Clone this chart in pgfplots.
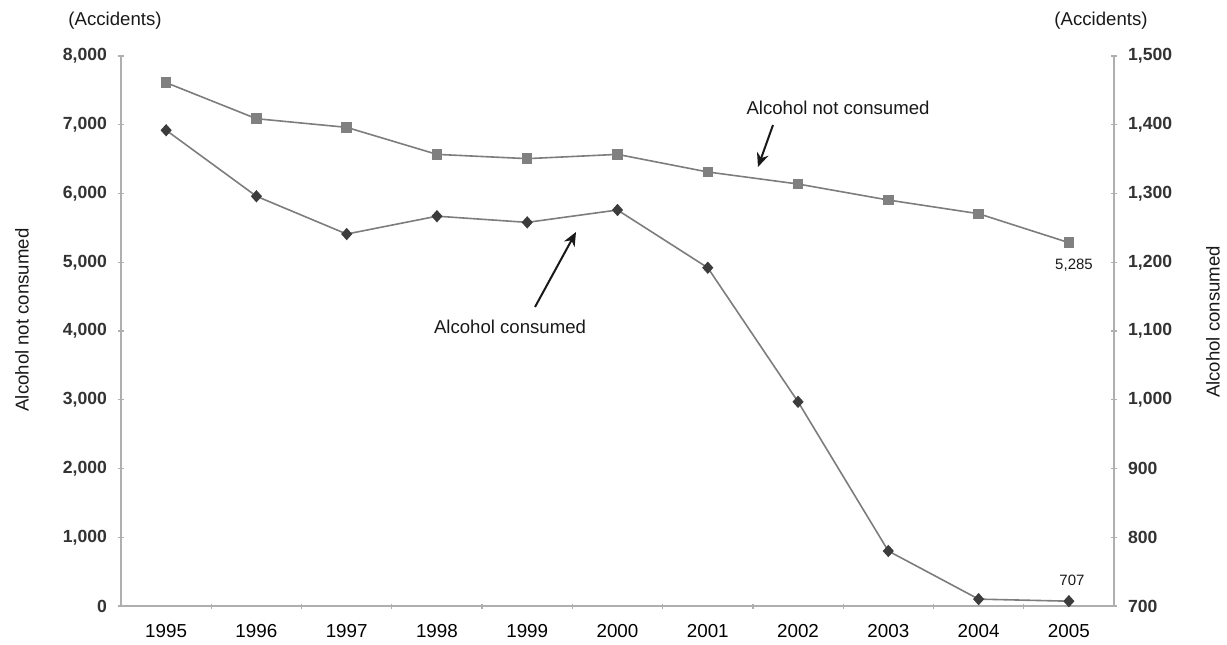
\documentclass[border=0pt]{standalone}
\usepackage{fontspec}
\setmainfont{Liberation Sans}
\usepackage{pgfplots}
\pgfplotsset{compat=1.18}
\usetikzlibrary{arrows.meta}

\definecolor{axisgray}{RGB}{175,175,175}
\definecolor{linegray}{RGB}{125,125,125}
\definecolor{sqgray}{RGB}{128,128,128}
\definecolor{dmdark}{RGB}{60,60,60}

\pgfplotsset{
  base/.style={
    at={(60.5pt,18pt)}, anchor=south west,
    scale only axis, width=496.5pt, height=275pt,
    xmin=-0.5, xmax=10.5,
    axis line style={axisgray, line width=0.7pt, -},
    tick style={axisgray, line width=0.6pt},
    tick align=center,
    major tick length=3pt,
    /pgf/number format/assume math mode=true,
    /pgf/number format/1000 sep={,},
    scaled y ticks=false,
    yticklabel style={font=\bfseries\fontsize{8.8}{10}\selectfont, text=black!80},
    clip=false,
  }
}

\begin{document}
\begin{tikzpicture}
% fixed page size, in reference pixels
\begin{scope}[x=0.5pt,y=-0.5pt,shift={(0pt,321pt)}]
  \path[use as bounding box] (0,0) rectangle (1227,642);
\end{scope}

% left axis: alcohol not consumed
\begin{axis}[base,
  ymin=0, ymax=8000,
  axis lines*=left,
  xtick={0,...,10},
  xticklabels={1995,1996,1997,1998,1999,2000,2001,2002,2003,2004,2005},
  major x tick style={draw=none},
  minor xtick={0.5,1.5,...,9.5},
  minor tick length=2.5pt,
  minor tick style={axisgray, line width=0.6pt},
  xticklabel style={font=\fontsize{9.4}{10}\selectfont, yshift=-4pt},
  ytick={0,1000,...,8000},
  yticklabel style={xshift=-2pt},
]
\addplot[color=linegray, line width=0.8pt, mark=square*, mark size=2.2pt,
  mark options={fill=sqgray, draw=sqgray}]
  coordinates {
    (0,7612)(1,7088)(2,6962)(3,6569)(4,6507)(5,6569)
    (6,6313)(7,6138)(8,5905)(9,5706)(10,5285)
  };
\end{axis}

% right axis: alcohol consumed
\begin{axis}[base,
  ymin=700, ymax=1500,
  axis x line=none,
  axis y line*=right,
  ytick={700,800,...,1500},
  yticklabel style={xshift=2pt},
]
\addplot[color=linegray, line width=0.8pt, mark=diamond*, mark size=2.5pt,
  mark options={fill=dmdark, draw=dmdark, xscale=1.2}]
  coordinates {
    (0,1392)(1,1296)(2,1241)(3,1267)(4,1258)(5,1276)
    (6,1192)(7,997)(8,780)(9,710)(10,707)
  };
\end{axis}

% texts and arrows, in reference pixels
\begin{scope}[x=0.5pt,y=-0.5pt,shift={(0pt,321pt)},
  every node/.style={font=\fontsize{9.3}{11}\selectfont, text=black!90}]
  \node at (115,21) {(Accidents)};
  \node at (1101,21) {(Accidents)};
  \node[rotate=90] at (22,320) {Alcohol not consumed};
  \node[rotate=90] at (1213,322) {Alcohol consumed};
  \node at (838,108) {Alcohol not consumed};
  \node at (510,327) {Alcohol consumed};
  \draw[black!90, -{Stealth[length=7pt,width=6pt]}, line width=1pt] (773,125) -- (758,167);
  \draw[black!90, -{Stealth[length=7pt,width=6pt]}, line width=1pt] (535,307) -- (576,232);
  \node[font=\fontsize{7.5}{9}\selectfont] at (1074,265) {5,285};
  \node[font=\fontsize{7.5}{9}\selectfont] at (1072,580) {707};
\end{scope}
\end{tikzpicture}
\end{document}
